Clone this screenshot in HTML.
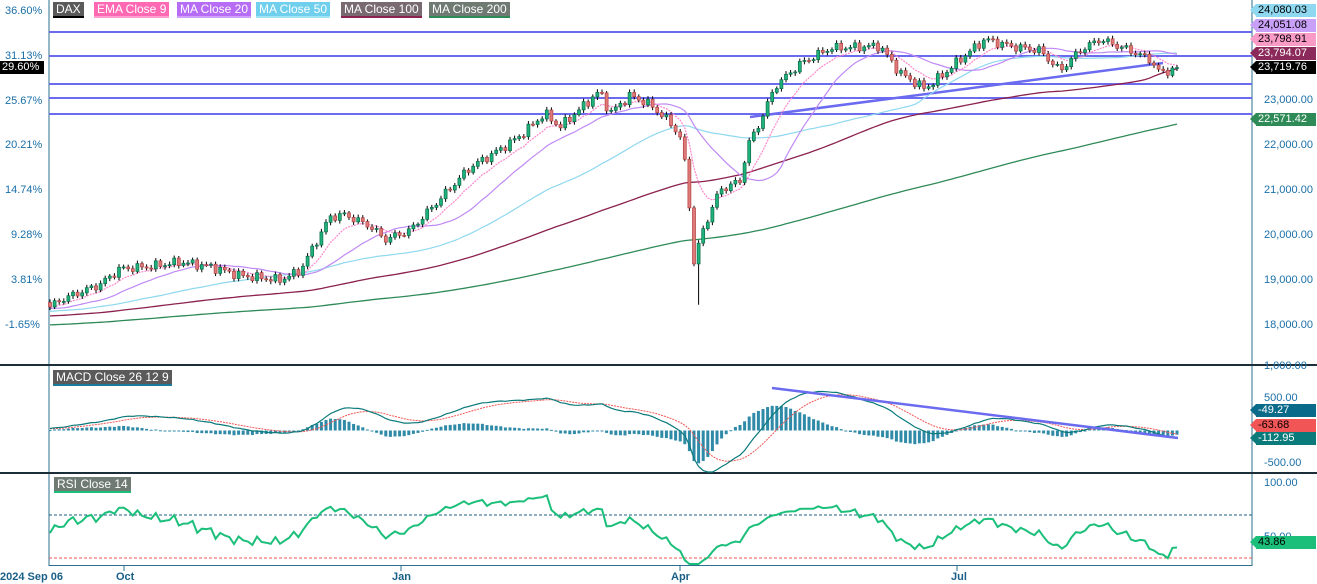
<!DOCTYPE html>
<html><head><meta charset="utf-8"><style>
body{margin:0;background:#fff;width:1317px;height:584px;overflow:hidden;font-family:"Liberation Sans",sans-serif;}
.t{position:absolute;font-size:11px;color:#1a6fa8;}
.lg{position:absolute;top:2px;height:14px;color:#fff;font-size:12px;line-height:14px;padding:0 3px;border-bottom:2px solid;}
.rl{position:absolute;left:1256px;height:13px;font-size:11px;line-height:13px;padding:0 2px 0 2px;width:56px;}
.rl:before{content:"";position:absolute;left:-6px;top:0;border-top:6.5px solid transparent;border-bottom:6.5px solid transparent;border-right:6px solid;border-right-color:inherit;}
</style></head><body>
<svg id="s" width="1317" height="584" style="position:absolute;left:0;top:0"></svg>
<div class="lg" style="left:53px;background:#5a5a5a;border-color:#000">DAX</div>
<div class="lg" style="left:94px;background:#ff69b4;border-color:#ff9fd0">EMA Close 9</div>
<div class="lg" style="left:177px;background:#b76cf5;border-color:#d0a0ff">MA Close 20</div>
<div class="lg" style="left:256px;background:#6fcfec;border-color:#a0e4f6">MA Close 50</div>
<div class="lg" style="left:341px;background:#786a70;border-color:#8b2250">MA Close 100</div>
<div class="lg" style="left:429px;background:#6e7a72;border-color:#2e8b57">MA Close 200</div>
<div class="lg" style="left:53px;top:370px;background:#5a5a5a;border-color:#1a7a9a">MACD Close 26 12 9</div>
<div class="lg" style="left:54px;top:477px;background:#6e7a72;border-color:#1bbf7a">RSI Close 14</div>
<div class="t" style="left:5px;top:5px">36.60%</div>
<div class="t" style="left:5px;top:50px">31.13%</div>
<div class="t" style="left:0;top:61px;background:#000;color:#fff;width:42px;padding-left:2px;height:13px;line-height:13px">29.60%</div>
<div class="t" style="left:5px;top:95px">25.67%</div>
<div class="t" style="left:5px;top:139px">20.21%</div>
<div class="t" style="left:5px;top:184px">14.74%</div>
<div class="t" style="left:11px;top:229px">9.28%</div>
<div class="t" style="left:11px;top:274px">3.81%</div>
<div class="t" style="left:5px;top:319px">-1.65%</div>
<div class="t" style="left:1264px;top:94px">23,000.00</div>
<div class="t" style="left:1264px;top:139px">22,000.00</div>
<div class="t" style="left:1264px;top:184px">21,000.00</div>
<div class="t" style="left:1264px;top:229px">20,000.00</div>
<div class="t" style="left:1264px;top:274px">19,000.00</div>
<div class="t" style="left:1264px;top:319px">18,000.00</div>
<div class="t" style="left:1264px;top:360px">1,000.00</div>
<div class="t" style="left:1264px;top:392px">500.00</div>
<div class="t" style="left:1264px;top:457px">-500.00</div>
<div class="t" style="left:1264px;top:477px">100.00</div>
<div class="t" style="left:1264px;top:531px">50.00</div>
<div class="rl" style="top:4px;background:#8fd8f0;border-color:#8fd8f0;color:#000">24,080.03</div>
<div class="rl" style="top:19px;background:#c9a0f7;border-color:#c9a0f7;color:#000">24,051.08</div>
<div class="rl" style="top:33px;background:#f99ac7;border-color:#f99ac7;color:#000">23,798.91</div>
<div class="rl" style="top:47px;background:#8b2a5a;border-color:#8b2a5a;color:#fff">23,794.07</div>
<div class="rl" style="top:61px;background:#000;border-color:#000;color:#fff">23,719.76</div>
<div class="rl" style="top:113px;background:#2e8b57;border-color:#2e8b57;color:#fff">22,571.42</div>
<div class="rl" style="top:404px;background:#0a6a8a;border-color:#0a6a8a;color:#fff">-49.27</div>
<div class="rl" style="top:419px;background:#f25555;border-color:#f25555;color:#000">-63.68</div>
<div class="rl" style="top:432px;background:#0a7a7a;border-color:#0a7a7a;color:#fff">-112.95</div>
<div class="rl" style="top:536px;background:#1bbf7a;border-color:#1bbf7a;color:#000">43.86</div>
<div class="t" style="left:0;top:571px;color:#1a5f88;font-weight:bold">2024 Sep 06</div>
<div class="t" style="left:116px;top:571px;color:#1a5f88;font-weight:bold">Oct</div>
<div class="t" style="left:392px;top:571px;color:#1a5f88;font-weight:bold">Jan</div>
<div class="t" style="left:671px;top:571px;color:#1a5f88;font-weight:bold">Apr</div>
<div class="t" style="left:951px;top:571px;color:#1a5f88;font-weight:bold">Jul</div>
<script>
var S=document.getElementById('s'),h='';
function L(x1,y1,x2,y2,c,w,d){h+='<line x1="'+x1+'" y1="'+y1+'" x2="'+x2+'" y2="'+y2+'" stroke="'+c+'" stroke-width="'+w+'"'+(d?' stroke-dasharray="'+d+'"':'')+'/>';}
function P(pts,c,w,d){h+='<polyline fill="none" points="'+pts.join(' ')+'" stroke="'+c+'" stroke-width="'+w+'"'+(d?' stroke-dasharray="'+d+'"':'')+'/>';}
var K=[[50,18400],[60,18550],[100,18900],[120,19250],[150,19300],[180,19400],[210,19300],[240,19100],[280,19000],[300,19200],[330,20400],[345,20450],[370,20200],[385,19900],[410,20100],[440,20800],[470,21500],[500,21900],[520,22200],[545,22700],[560,22400],[590,23000],[600,23200],[610,22700],[630,23100],[650,22900],[670,22500],[680,22200],[688,21200],[693,19300],[700,19900],[710,20500],[720,21000],[740,21200],[748,22000],[760,22500],[775,23300],[800,23800],[830,24150],[880,24200],[900,23600],[925,23250],[945,23600],[960,23900],[985,24350],[1010,24200],[1040,24100],[1060,23650],[1080,24100],[1100,24350],[1130,24100],[1150,23900],[1160,23600],[1180,23720]];
function interp(x){for(var i=0;i<K.length-1;i++){if(x<=K[i+1][0]){var t=(x-K[i][0])/(K[i+1][0]-K[i][0]);return K[i][1]+t*(K[i+1][1]-K[i][1]);}}return K[K.length-1][1];}
var sp=4.6,N=Math.floor((1180-50)/sp)+1,pre=200,C=[];
for(var i=0;i<pre;i++){C.push(17600+800*i/pre+120*Math.sin(i*0.7));}
for(var i=0;i<N;i++){var x=50+i*sp;C.push(interp(x)+70*Math.sin(i*1.7)+45*Math.sin(i*3.1));}
C[C.length-1]=23720;
function Y(p){return 100+(23000-p)*0.045;}
function X(j){return 50+(j-pre)*sp;}
function sma(n){var r=[];for(var j=0;j<C.length;j++){if(j<n-1){r.push(null);continue;}var s=0;for(var k=j-n+1;k<=j;k++)s+=C[k];r.push(s/n);}return r;}
function ema(a,n){var r=[],k=2/(n+1),e=a[0];for(var j=0;j<a.length;j++){e=j?a[j]*k+e*(1-k):a[j];r.push(e);}return r;}
L(49,0,49,566,'#2e6f8e',1);L(1252,0,1252,566,'#2e6f8e',1);L(49,565.5,1252,565.5,'#2e6f8e',1);
L(0,365,1317,365,'#1c2e3a',2);L(0,473,1317,473,'#1c2e3a',2);
[124,401,680,957].forEach(function(x){L(x,566,x,571,'#2e6f8e',1);});
[32,56,84,98,114].forEach(function(y){L(49,y,1252,y,'#6b6bf0',2);});
L(750,117,1163,63,'#6b6bf0',2.5);
function line(a,c,w,d){var p=[];for(var j=pre;j<C.length;j++)if(a[j]!=null)p.push(X(j).toFixed(1)+','+Y(a[j]).toFixed(1));P(p,c,w,d);}
line(sma(200),'#2e8b57',1.3);line(sma(100),'#8b2250',1.3);line(sma(50),'#8fd8f0',1.2);line(sma(20),'#c08af5',1.2);line(ema(C,9),'#ff88cc',1.2,'2,1');
for(var j=pre;j<C.length;j++){var o=C[j-1],c=C[j],x=X(j);var hi=Math.max(o,c)+40+30*Math.abs(Math.sin(j*2.3)),lo=Math.min(o,c)-40-30*Math.abs(Math.cos(j*1.9));
if(j-pre==141){lo=18450;}
L(x,Y(hi),x,Y(lo),'#000',1);var up=c>=o,y1=Y(Math.max(o,c)),y2=Y(Math.min(o,c));
h+='<rect x="'+(x-1.5)+'" y="'+y1+'" width="3" height="'+Math.max(1,y2-y1)+'" fill="'+(up?'#1db37a':'#e07a7a')+'" stroke="'+(up?'#0d6b4a':'#b04040')+'" stroke-width="0.7"/>';}
var e12=ema(C,12),e26=ema(C,26),m=[];for(var j=0;j<C.length;j++)m.push(e12[j]-e26[j]);var sg=ema(m,9);
function MY(v){return 430.5-v*0.065;}
for(var j=pre;j<C.length;j++){var hv=(m[j]-sg[j])*1.3,x=X(j);h+='<rect x="'+(x-1.5)+'" y="'+Math.min(MY(hv),430.5)+'" width="3" height="'+Math.max(1,Math.abs(MY(hv)-430.5))+'" fill="#2f8aa8"/>';}
var pm=[],ps=[];for(var j=pre;j<C.length;j++){pm.push(X(j).toFixed(1)+','+Math.max(367,Math.min(472,MY(m[j]))).toFixed(1));ps.push(X(j).toFixed(1)+','+Math.max(367,Math.min(472,MY(sg[j]))).toFixed(1));}
P(ps,'#f25555',1,'2,1');P(pm,'#0a7a7a',1.2);
L(772,388,1178,438,'#6b6bf0',2.5);
L(49,515,1252,515,'#1a5f88',1,'3,2');L(49,558,1252,558,'#f25555',1,'3,2');
var g=0,l=0,rp=[];for(var j=1;j<C.length;j++){var d=C[j]-C[j-1];var G=d>0?d:0,Lo=d<0?-d:0;if(j<=14){g+=G/14;l+=Lo/14;}else{g=(g*13+G)/14;l=(l*13+Lo)/14;}
if(j>=pre){var r=100-100/(1+g/(l||1e-9));rp.push(X(j).toFixed(1)+','+Math.max(475,Math.min(564,483+(100-r)*1.075)).toFixed(1));}}
P(rp,'#1bbf7a',2);
S.innerHTML=h;
</script>
</body></html>
